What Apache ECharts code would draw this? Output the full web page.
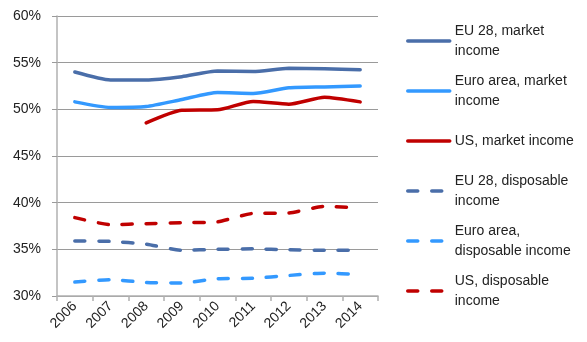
<!DOCTYPE html>
<html><head><meta charset="utf-8">
<script src="https://cdn.jsdelivr.net/npm/echarts@6/dist/echarts.min.js"></script>
<style>html,body{margin:0;padding:0;background:#fff}#c{width:587px;height:342px}</style>
</head><body><div id="c"></div>
<script>
const years = ['2006','2007','2008','2009','2010','2011','2012','2013','2014'];
const yTicks = [30, 35, 40, 45, 50, 55, 60];
const eu28Market = [54.0, 53.15, 53.15, 53.5, 54.1, 54.05, 54.4, 54.35, 54.25];
const euroMarket = [50.8, 50.2, 50.3, 51.05, 51.8, 51.7, 52.3, 52.4, 52.5];
const usMarket = [null, null, 48.55, 49.9, 49.95, 50.85, 50.55, 51.3, 50.8];
const eu28Disp = [35.9, 35.85, 35.55, 34.9, 35.0, 35.05, 34.95, 34.9, 34.9];
const euroDisp = [31.5, 31.75, 31.45, 31.4, 31.85, 31.9, 32.2, 32.45, 32.3];
const usDisp = [38.4, 37.65, 37.75, 37.85, 37.95, 38.85, 38.9, 39.6, 39.45];
const names = ['EU 28, market income','Euro area, market income','US, market income',
  'EU 28, disposable income','Euro area, disposable income','US, disposable income'];
const labels = ['EU 28, market\nincome','Euro area, market\nincome','US, market income',
  'EU 28, disposable\nincome','Euro area,\ndisposable income','US, disposable\nincome'];
const values = [eu28Market, euroMarket, usMarket, eu28Disp, euroDisp, usDisp];
const colors = ['#4a6ea9','#3399ff','#c00000','#4a6ea9','#3399ff','#c00000'];
const dashed = [false,false,false,true,true,true];
const legendCenters = [41, 91, 141, 191, 241, 291];

const font = 'Liberation Sans, Arial, sans-serif';
const chart = echarts.init(document.getElementById('c'), null, {renderer:'canvas'});
const series = names.map((n,i)=>({
  name:n, type:'line', data: values[i], symbol:'none', smooth:0.2, connectNulls:false,
  lineStyle:{color:colors[i], width:3.5, type: dashed[i]?[10,14]:'solid', cap:'round'},
  itemStyle:{color:colors[i]}
}));
const legends = names.map((n,i)=>({
  data:[n], left:406, top: legendCenters[i]-30, orient:'vertical', padding:0,
  itemWidth:42, itemHeight:14, selectedMode:false,
  itemStyle:{opacity:0, color:'rgba(0,0,0,0)', borderWidth:0},
  lineStyle:{color:colors[i], width:3.5, type: dashed[i]?[10,14]:'solid', cap:'round'},
  formatter: ()=>labels[i],
  textStyle:{fontFamily:font, fontSize:14, color:'#222', lineHeight:20,
    padding: labels[i].indexOf('\n')>=0 ? [20,0,0,0] : [20,0,20,0]}
}));
chart.setOption({
  animation:false,
  textStyle:{fontFamily:font},
  grid:{left:57, top:16, right:209, bottom:46, containLabel:false},
  legend: legends,
  xAxis:{type:'category', data:years, boundaryGap:true,
    axisLine:{lineStyle:{color:'#b0b0b0', width:1.5}},
    axisTick:{show:true, length:5, lineStyle:{color:'#b0b0b0', width:1.5}},
    axisLabel:{rotate:45, fontSize:14, color:'#222', fontFamily:font, margin:8}
  },
  yAxis:{type:'value', min:yTicks[0], max:yTicks[yTicks.length-1], interval:5,
    axisLine:{show:true, lineStyle:{color:'#b0b0b0', width:1.5}},
    axisTick:{show:true, length:5, lineStyle:{color:'#9a9a9a'}},
    axisLabel:{formatter:'{value}%', fontSize:14, color:'#222', fontFamily:font, margin:16},
    splitLine:{show:true, lineStyle:{color:'#9a9a9a', width:1}}
  },
  series: series
});
</script></body></html>
